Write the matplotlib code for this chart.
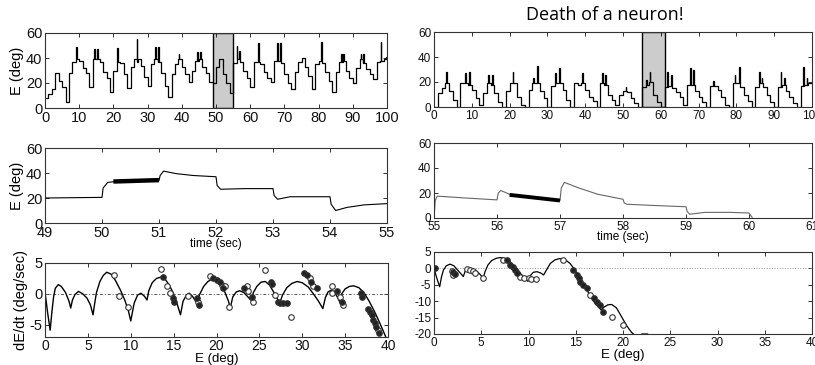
import numpy as np
import matplotlib
matplotlib.use('Agg')
import matplotlib.pyplot as plt

plt.rcParams['font.family'] = ['Liberation Sans', 'DejaVu Sans']
plt.rcParams['axes.unicode_minus'] = False

# ---------------- data ----------------
# top-left: eye position per second (value on [t, t+1)), 0..99 s
left_vals = [8, 11, 15, 28, 22, 17, 5, 28, 37, 39,
             38, 32, 28, 17, 39, 39, 37, 29, 24, 13,
             30, 37, 36, 27, 16, 33, 39, 37, 34, 25,
             18, 35, 39, 37, 28, 18, 9, 27, 35, 39,
             33, 27, 21, 30, 38, 39, 33, 28, 21, 20,
             33, 39, 27, 20, 12, 36, 39, 37, 30, 24,
             17, 37, 37, 35, 29, 24, 21, 38, 39, 36,
             27, 20, 15, 29, 37, 40, 33, 26, 15, 35,
             38, 36, 29, 22, 13, 29, 37, 38, 30, 24,
             20, 32, 39, 36, 31, 27, 23, 37, 38, 39]
left_spike_t = [9.1, 14.3, 15.3, 21.0, 26.9, 32.2, 33.1, 39.1, 44.4, 45.3,
                56.0, 56.7, 62.4, 67.8, 68.7, 80.7, 86.6, 87.2, 92.3, 93.1, 98.1, 99.6]
left_spike_E = [49, 47, 47, 48, 55, 49, 49, 43, 45, 45,
                50, 46, 52, 52, 52, 53, 43, 43, 43, 43, 53, 41]

# top-right (after neuron death)
right_vals = [0, 11, 15, 19, 13, 6, 0, 19, 19, 18,
              14, 7, 2, 11, 19, 18, 11, 4, 0, 13,
              19, 16, 8, 2, 0, 14, 19, 19, 13, 7,
              0, 17, 19, 19, 14, 6, 0, 19, 18, 19,
              14, 8, 5, 0, 19, 18, 10, 6, 2, 10,
              13, 12, 7, 3, 0, 16, 18, 20, 10, 4,
              0, 16, 17, 15, 12, 8, 2, 18, 18, 13,
              8, 4, 0, 17, 20, 14, 8, 2, 0, 19,
              19, 16, 10, 5, 0, 16, 19, 16, 10, 4,
              0, 16, 18, 13, 8, 3, 0, 17, 18, 19]
right_spike_t = [3.2, 8.2, 9.3, 14.4, 15.3, 20.8, 26.3, 27.2, 32.1, 33.2, 39.1,
                 44.4, 45.2, 50.7, 56.1, 57.05, 61.7, 62.7, 67.7, 68.6, 73.9,
                 79.5, 80.7, 86.05, 86.7, 91.7, 92.7, 97.7, 98.6]
right_spike_E = [28, 27, 28, 26, 26, 28, 23, 33, 27, 31, 27,
                 27, 26, 16, 22, 28, 28, 26, 31, 30, 21,
                 26, 32, 28, 23, 28, 23, 32, 23]

shade_left = (49, 55)
shade_right = (55, 61)

# middle panels: zoomed traces
mid_left_t = [49.0, 50.0, 50.02, 50.1, 50.2, 51.0, 51.02, 51.08, 51.3, 51.6, 52.0,
              52.02, 52.08, 52.5, 53.0, 53.02, 53.08, 53.3, 54.0, 54.02, 54.1,
              54.3, 54.6, 55.0]
mid_left_E = [20, 20.5, 28, 32.5, 33, 34, 38, 41.5, 39.5, 38, 37,
              30, 27, 27.5, 27.5, 22, 19, 21, 21, 15, 10,
              12.5, 14.5, 15.5]
mid_left_bold_t = [50.2, 51.0]
mid_left_bold_E = [33.2, 34.3]

mid_right_t = [55.0, 55.02, 55.05, 55.5, 56.0, 56.02, 56.06, 56.2, 56.6, 57.0,
               57.02, 57.07, 57.3, 57.6, 58.0, 58.02, 58.06, 58.5, 59.0, 59.02,
               59.06, 59.3, 59.7, 60.0, 60.02, 60.05]
mid_right_E = [0, 14, 17.5, 16, 14.5, 20, 22, 19, 16, 14,
               24, 28.5, 24, 19, 15, 12, 11, 10, 9, 5,
               3, 4.5, 4.5, 4, 2.5, 0.5]
mid_right_bold_t = [56.2, 57.0]
mid_right_bold_E = [18.5, 14]

# bottom-left: dE/dt vs E (model curve)
bl_curve_E = [0.0, 0.3, 0.6, 0.8, 1.0, 1.2, 1.55, 1.9, 2.4, 2.8, 3.0,
              3.2, 3.5, 3.9, 4.4, 4.9, 5.3, 5.6,
              5.8, 6.0, 6.4, 6.8, 7.2, 7.7, 8.2, 8.8, 9.3, 9.7, 10.0,
              10.4, 10.8, 11.2, 11.6, 11.9,
              12.1, 12.5, 13.0, 13.5, 14.0, 14.5, 15.0, 15.4, 15.8,
              16.1, 16.5, 16.8, 17.2, 17.7,
              18.0, 18.5, 19.0, 19.5, 20.0, 20.5, 21.0, 21.4, 21.6,
              21.9, 22.3, 22.7, 23.2, 23.6, 24.0,
              24.3, 24.7, 25.2, 25.7, 26.2, 26.7, 27.0, 27.4,
              27.7, 28.2, 28.8, 29.4, 30.0, 30.7, 31.3, 31.9, 32.4,
              32.7, 33.0, 33.4, 33.8, 34.2, 34.4,
              34.6, 35.0, 35.5, 36.0, 36.6, 37.2, 37.8, 38.4, 39.0, 39.5, 39.8]
bl_curve_v = [0.3, -3, -5.9, -3, -0.5, 0.9, 1.5, 1.2, 0.2, -1.2, -2.3,
              -1.0, -0.1, 0.4, 0.0, -0.7, -1.8, -3.4,
              -1.5, 0.2, 2.0, 3.0, 3.5, 3.2, 2.2, 0.6, -1.0, -2.6, -4.4,
              -1.5, -0.2, 0.1, -0.4, -1.0,
              0.5, 1.8, 2.5, 2.7, 2.4, 1.4, 0.0, -1.6, -3.4,
              -1.2, -0.2, 0.1, -0.4, -1.5,
              -0.2, 1.2, 2.0, 2.4, 2.2, 1.5, 0.2, -1.2, -2.3,
              -0.5, 0.3, 0.5, 0.2, -0.4, -1.0,
              0.2, 1.2, 1.9, 2.0, 1.4, 0.2, -0.6, -1.4,
              -0.2, 1.0, 1.7, 2.0, 1.8, 1.1, 0.0, -1.2, -2.4,
              -0.6, 0.3, 0.6, 0.2, -0.8, -1.4,
              0.0, 0.8, 1.2, 1.3, 1.0, 0.2, -1.2, -2.8, -4.6, -6.2, -7.2]
bl_open_E = [8.0, 8.6, 9.7, 13.5, 14.2, 14.6, 16.7, 17.9, 19.3, 20.6, 21.0, 21.5,
             23.5, 23.7, 24.3, 25.6, 26.8, 28.7, 30.9, 31.3, 33.5, 33.5, 34.4, 34.8, 38.8]
bl_open_v = [3.0, -0.3, -2.1, 4.0, 1.2, 0.1, -0.3, -1.4, 2.9, 1.4, 1.2, -2.1,
             1.2, 0.5, -1.3, 3.8, -0.2, -3.7, 2.5, 1.2, 1.3, 0.1, -0.5, -1.8, -5.9]
bl_fill_E = [13.8, 14.9, 15.1, 17.7, 18.0, 19.65, 20.0, 20.4, 20.8, 23.2, 24.1,
             26.3, 26.5, 27.2, 27.4, 27.8, 28.2, 30.2, 30.5, 31.0, 31.7, 34.0, 34.6,
             36.8, 37.0, 37.7, 37.9, 38.1, 38.3, 38.5, 38.6, 39.0]
bl_fill_v = [2.8, -0.7, -1.3, -0.7, -1.8, 2.5, 2.2, 2.0, 0.9, 0.9, -0.5,
             2.0, 1.6, -1.3, -1.5, -1.5, -1.5, 3.4, 3.1, 2.0, 0.9, 0.4, -1.3,
             0.1, -0.5, -2.4, -2.9, -3.4, -4.2, -4.8, -5.3, -6.3]

# bottom-right
br_curve_E = [0.0, 0.3, 0.6, 0.8, 1.0, 1.3, 1.7, 2.1, 2.5, 2.9, 3.1,
              3.3, 3.6, 4.0, 4.5, 4.9, 5.2,
              5.4, 5.7, 6.1, 6.6, 7.0, 7.5, 8.0, 8.6, 9.1, 9.5, 9.9,
              10.1, 10.5, 10.9, 11.3, 11.6,
              11.9, 12.3, 12.8, 13.3, 13.9, 14.4, 15.0, 15.6, 16.3, 17.0, 17.7,
              18.0, 18.4, 18.8, 19.3, 19.8, 20.4, 20.9, 21.3, np.nan, 22.0, 22.6]
br_curve_v = [0.0, -3, -5.6, -2.5, -0.5, 0.8, 1.3, 0.8, -0.5, -1.8, -2.5,
              -0.8, 0.0, 0.0, -0.8, -1.9, -3.0,
              -1.0, 1.0, 2.4, 3.1, 3.3, 3.1, 2.2, 0.5, -1.3, -2.8, -3.9,
              -2.5, -1.2, -1.0, -1.4, -2.0,
              -0.5, 1.5, 2.6, 3.0, 2.6, 1.5, -0.8, -3.8, -7.2, -10.5, -12.7,
              -11.8, -11.1, -11.0, -12.0, -14.5, -17.5, -19.5, -20.5, np.nan, -20, -20]
br_open_E = [1.9, 2.0, 3.5, 3.8, 4.1, 4.3, 5.2, 7.3, 9.1, 9.5, 10.0, 10.3, 10.8,
             13.7, 16.5, 18.8, 20.0]
br_open_v = [-0.8, -2.0, -0.2, -0.5, -0.8, -1.5, -3.0, 2.6, -2.5, -3.0, -3.0, -3.3, -3.3,
             2.6, -8.1, -14.7, -17.3]
br_fill_E = [0.1, 2.0, 2.2, 7.7, 8.0, 8.4, 8.6, 8.8, 14.7, 15.1, 15.3, 15.4, 15.8,
             16.2, 16.9, 17.2, 17.6, 17.9]
br_fill_v = [0.0, -1.2, -1.8, 2.6, 1.0, 0.5, -0.5, -1.5, -0.5, -2.0, -3.0, -4.0, -5.1,
             -6.1, -9.1, -10.1, -11.2, -13.2]


def step_trace(vals, sp_t, sp_E, dur=0.2):
    ev = {float(i): v for i, v in enumerate(vals)}
    for ts, h in zip(sp_t, sp_E):
        base = vals[int(ts)]
        ev[ts] = h
        ev[ts + dur] = base
    ev[float(len(vals))] = vals[-1]
    keys = sorted(ev)
    return np.array(keys), np.array([ev[k] for k in keys])


def style(ax, fs):
    ax.tick_params(direction='in', top=True, right=True, length=3, width=0.6,
                   labelsize=fs, pad=2, colors='#111111')
    for s in ax.spines.values():
        s.set_linewidth(0.8)
        s.set_color('#333333')


fig = plt.figure(figsize=(8.15, 3.65), dpi=100)
W, H = 815.0, 365.0


def add_ax(x0, y0, x1, y1):
    return fig.add_axes([x0 / W, 1 - y1 / H, (x1 - x0) / W, (y1 - y0) / H])


ax_tl = add_ax(45, 33, 387, 108)
ax_ml = add_ax(45, 148, 387, 223)
ax_bl = add_ax(45, 263, 388, 337)
ax_tr = add_ax(434, 32, 812, 107)
ax_mr = add_ax(434, 143, 812, 218)
ax_br = add_ax(434, 252, 812, 334)

lfs = 10.5
rfs = 8.5

# top panels
for ax, vals, st, se, sh, fs in [(ax_tl, left_vals, left_spike_t, left_spike_E, shade_left, lfs),
                                 (ax_tr, right_vals, right_spike_t, right_spike_E, shade_right, rfs)]:
    ax.axvspan(sh[0], sh[1], facecolor='#cccccc', edgecolor='black', lw=1.0, zorder=0)
    t, e = step_trace(vals, st, se)
    ax.plot(t, e, drawstyle='steps-post', color='black', lw=0.9)
    ax.set_xlim(0, 100)
    ax.set_ylim(0, 60)
    ax.set_xticks(np.arange(0, 101, 10))
    ax.set_yticks([0, 20, 40, 60])
    style(ax, fs)
ax_tl.set_ylabel('E (deg)', fontsize=lfs, labelpad=1)

# middle panels
ax_ml.plot(mid_left_t, mid_left_E, color='black', lw=0.8)
ax_ml.plot(mid_left_bold_t, mid_left_bold_E, color='black', lw=3.2, solid_capstyle='butt')
ax_ml.set_xlim(49, 55)
ax_ml.set_ylim(0, 60)
ax_ml.set_yticks([0, 20, 40, 60])
ax_ml.set_ylabel('E (deg)', fontsize=lfs, labelpad=1)
ax_ml.set_xlabel('time (sec)', fontsize=rfs, labelpad=-1)
style(ax_ml, lfs)

ax_mr.plot(mid_right_t, mid_right_E, color='#666666', lw=0.8)
ax_mr.plot(mid_right_bold_t, mid_right_bold_E, color='black', lw=2.8, solid_capstyle='butt')
ax_mr.set_xlim(55, 61)
ax_mr.set_ylim(0, 60)
ax_mr.set_yticks([0, 20, 40, 60])
ax_mr.set_xlabel('time (sec)', fontsize=rfs, labelpad=-1)
style(ax_mr, rfs)

# bottom panels
ax_bl.axhline(0, color='#555555', lw=0.7, ls=(0, (3, 2, 1, 2)))
ax_bl.plot(bl_curve_E, bl_curve_v, color='black', lw=1.0)
ax_bl.plot(bl_open_E, bl_open_v, 'o', ms=4, mfc='white', mec='#333333', mew=0.8)
ax_bl.plot(bl_fill_E, bl_fill_v, 'o', ms=4, mfc='#222222', mec='#333333', mew=0.8)
ax_bl.set_xlim(0, 40)
ax_bl.set_ylim(-7, 5)
ax_bl.set_xticks(np.arange(0, 41, 5))
ax_bl.set_yticks([-5, 0, 5])
ax_bl.set_ylabel('dE/dt (deg/sec)', fontsize=lfs, labelpad=1)
style(ax_bl, lfs)
ax_bl.tick_params(axis='x', labelsize=10, pad=1.5)
ax_bl.set_xlabel('E (deg)', fontsize=9.5, labelpad=0)

ax_br.axhline(0, color='#999999', lw=0.7, ls=':')
ax_br.plot(br_curve_E, br_curve_v, color='black', lw=0.9)
ax_br.plot(br_open_E, br_open_v, 'o', ms=4, mfc='white', mec='#333333', mew=0.8)
ax_br.plot(br_fill_E, br_fill_v, 'o', ms=4, mfc='#222222', mec='#333333', mew=0.8)
ax_br.set_xlim(0, 40)
ax_br.set_ylim(-20, 5)
ax_br.set_xticks(np.arange(0, 41, 5))
ax_br.set_yticks(np.arange(-20, 6, 5))
ax_br.set_xlabel('E (deg)', fontsize=rfs + 1, labelpad=0)
style(ax_br, rfs)

fig.text(605 / W, 1 - 15 / H, 'Death of a neuron!', ha='center', va='center',
         fontsize=13, family=['Open Sans', 'DejaVu Sans'])

fig.savefig('out.png', dpi=100)
